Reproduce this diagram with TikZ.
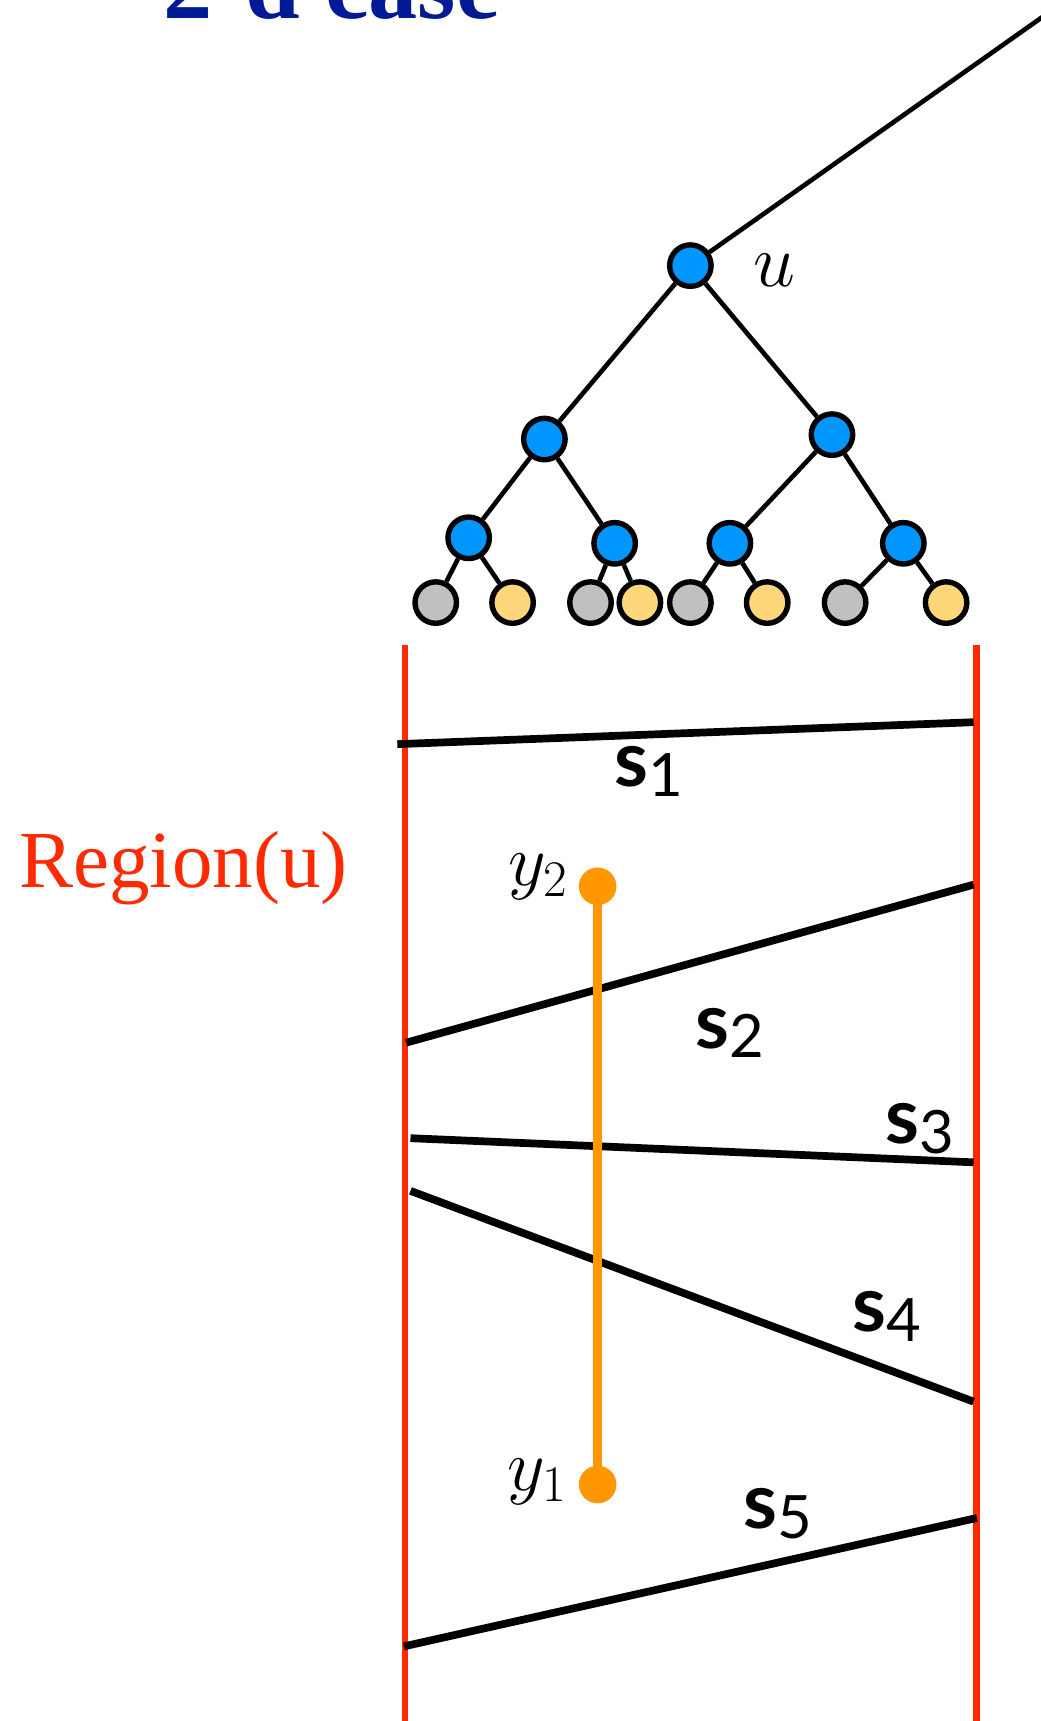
\documentclass[tikz,border=0pt]{standalone}
\usepackage{fix-cm}
\usepackage{fontspec}
\newfontfamily\segfont{Lato}
\newfontfamily\serifsf{Liberation Serif}
\definecolor{nodeblue}{RGB}{0,150,255}
\definecolor{leafgray}{RGB}{192,192,192}
\definecolor{leafyellow}{RGB}{255,214,122}
\definecolor{regionred}{RGB}{255,42,0}
\definecolor{queryorange}{RGB}{255,152,0}
\definecolor{titleblue}{RGB}{0,26,150}
\newcommand{\segname}[1]{\textbf{s}\raisebox{-5pt}{\fontsize{31}{31}\selectfont #1}}
\tikzset{
  tnode/.style={circle,draw=black,line width=2.8pt,minimum size=21.5pt,inner sep=0pt,fill=nodeblue},
  gleaf/.style={tnode,fill=leafgray},
  yleaf/.style={tnode,fill=leafyellow},
  tedge/.style={line width=2.4pt},
  seg/.style={line width=4pt},
  slab/.style={font=\segfont\fontsize{40}{40}\selectfont,inner sep=0pt,anchor=base},
  bound/.style={draw=regionred,line width=3.6pt},
  qdot/.style={circle,fill=queryorange,minimum size=19.5pt,inner sep=0pt},
  qlab/.style={font=\fontsize{38}{38}\selectfont,inner sep=0pt,anchor=base east}
}
\begin{document}
\begin{tikzpicture}[x=0.02cm,y=-0.02cm]
\useasboundingbox (0,0) rectangle (948,1568);
\node[anchor=base west,inner sep=0pt,text=titleblue,font=\serifsf\bfseries\fontsize{51}{51}\selectfont] (title) at (149,16.5) {2-d case};

\coordinate (par) at (1000,-20);
\node[tnode] (u) at (629,242) {};
\node[inner sep=0pt,font=\fontsize{39}{39}\selectfont] (ulab) at (706,246) {$u$};
\node[tnode] (ul) at (496,400) {};
\node[tnode] (ur) at (758,396) {};
\node[tnode] (ull) at (427,490) {};
\node[tnode] (ulr) at (560,495) {};
\node[tnode] (url) at (665,495) {};
\node[tnode] (urr) at (823,495) {};
\node[gleaf] (l1) at (397,549) {};
\node[yleaf] (l2) at (467,549) {};
\node[gleaf] (l3) at (538,549) {};
\node[yleaf] (l4) at (583,549) {};
\node[gleaf] (l5) at (629,549) {};
\node[yleaf] (l6) at (699,549) {};
\node[gleaf] (l7) at (770,549) {};
\node[yleaf] (l8) at (862,549) {};
\draw[tedge] (par) -- (u) (u) -- (ul) (u) -- (ur);
\draw[tedge] (ul) -- (ull) (ul) -- (ulr) (ur) -- (url) (ur) -- (urr);
\draw[tedge] (ull) -- (l1) (ull) -- (l2) (ulr) -- (l3) (ulr) -- (l4);
\draw[tedge] (url) -- (l5) (url) -- (l6) (urr) -- (l7) (urr) -- (l8);

\coordinate (ltop) at (369,588);
\coordinate (lbot) at (369,1580);
\coordinate (rtop) at (890,588);
\coordinate (rbot) at (890,1580);
\draw[bound] (ltop) -- (lbot);
\draw[bound] (rtop) -- (rbot);
\node[anchor=base west,inner sep=0pt,text=regionred,font=\serifsf\fontsize{42}{42}\selectfont] (region) at (17,809) {Region(u)};

\coordinate (s1a) at (362,678);
\coordinate (s1b) at (887,658);
\coordinate (s2a) at (370,950);
\coordinate (s2b) at (887,806);
\coordinate (s3a) at (374,1037);
\coordinate (s3b) at (887,1059);
\coordinate (s4a) at (374,1085);
\coordinate (s4b) at (887,1277);
\coordinate (s5a) at (368,1500);
\coordinate (s5b) at (890,1383);
\draw[seg] (s1a) -- (s1b);
\draw[seg] (s2a) -- (s2b);
\draw[seg] (s3a) -- (s3b);
\draw[seg] (s4a) -- (s4b);
\draw[seg] (s5a) -- (s5b);
\node[slab] (lab1) at (591,716.5) {\segname{1}};
\node[slab] (lab2) at (665,955) {\segname{2}};
\node[slab] (lab3) at (838,1042) {\segname{3}};
\node[slab] (lab4) at (808,1213) {\segname{4}};
\node[slab] (lab5) at (709,1393) {\segname{5}};

\node[qdot] (y2) at (544.5,807.5) {};
\node[qdot] (y1) at (544.5,1352.5) {};
\draw[queryorange,line width=5pt] (y2.center) -- (y1.center);
\node[qlab] (y2lab) at (518,807) {$y_2$};
\node[qlab] (y1lab) at (517,1358) {$y_1$};
\end{tikzpicture}
\end{document}
